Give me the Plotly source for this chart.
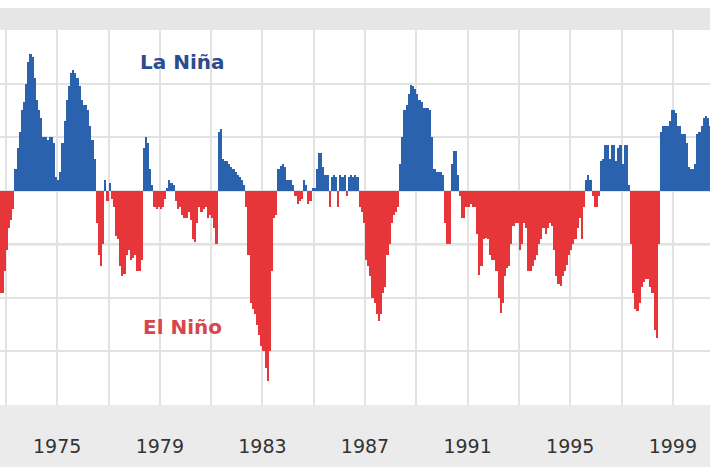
import numpy as np
import plotly.graph_objects as go

# monthly index values, starting Sep 1972 (positive = La Niña, negative = El Niño)
soi_1972_1979 = [
    -1.8, -1.9, -1.9, -1.5,
    -1.1, -0.7, -0.55, -0.35, 0.4, 0.8, 1.1, 1.5, 1.65, 2.0, 2.4, 2.55,
    2.5, 2.1, 1.7, 1.5, 1.35, 1.0, 1.0, 0.95, 1.0, 1.0, 0.9, 0.25,
    0.2, 0.35, 0.9, 1.3, 1.7, 1.95, 2.2, 2.25, 2.2, 2.1, 1.95, 1.7,
    1.6, 1.6, 1.5, 1.2, 0.95, 0.6, -0.6, -1.2, -1.4, -1.0, 0.2, -0.2,
    0.15, -0.15, -0.3, -0.85, -0.9, -1.4, -1.6, -1.55, -1.2, -1.1, -1.3, -1.25,
    -1.2, -1.5, -1.5, -1.3, 0.8, 1.0, 0.9, 0.4, 0.1, -0.3, -0.35, -0.3,
    -0.35, -0.3, -0.15, 0.05, 0.2, 0.15, 0.1, -0.2, -0.35, -0.3, -0.45, -0.5,
]
soi_1980_1989 = [
    -0.5, -0.4, -0.55, -0.9, -0.95, -0.6, -0.3, -0.4, -0.35, -0.3, -0.5, -0.45,
    -0.5, -0.7, -1.0, 1.1, 1.15, 0.6, 0.55, 0.55, 0.5, 0.45, 0.4, 0.35,
    0.3, 0.25, 0.2, 0.1, -0.3, -1.2, -2.1, -2.2, -2.3, -2.5, -2.7, -2.9,
    -3.0, -3.3, -3.55, -3.0, -1.5, -0.5, -0.45, 0.4, 0.47, 0.5, 0.45, 0.2,
    0.2, 0.2, 0.1, -0.1, -0.25, -0.2, -0.15, 0.2, 0.1, -0.25, -0.2, 0.05,
    0.05, 0.4, 0.7, 0.7, 0.45, 0.3, 0.3, -0.3, 0.25, 0.3, 0.25, -0.3,
    0.3, 0.25, 0.3, -0.1, 0.25, 0.3, 0.25, 0.3, 0.25, -0.3, -0.4, -0.6,
    -1.3, -1.4, -1.6, -2.0, -2.1, -2.3, -2.43, -2.3, -1.9, -1.8, -1.2, -1.0,
    -0.6, -0.45, -0.4, -0.3, 0.5, 1.0, 1.5, 1.6, 1.8, 1.98, 1.95, 1.9,
    1.8, 1.7, 1.65, 1.55, 1.55, 1.55, 1.5, 1.0, 0.4, 0.35, 0.35, 0.35,
]
soi_1990_2000 = [
    0.3, -0.6, -1.0, -1.0, 0.5, 0.75, 0.75, 0.3, -0.1, -0.5, -0.5, -0.3,
    -0.3, -0.25, -0.3, -0.3, -0.8, -1.57, -1.4, -0.9, -0.88, -0.9, -1.2, -1.3,
    -1.3, -1.5, -2.0, -2.28, -2.1, -1.6, -1.45, -1.4, -1.0, -0.65, -0.6, -0.6,
    -1.1, -1.0, -0.6, -0.7, -1.5, -1.5, -1.4, -1.3, -1.2, -1.0, -0.9, -0.7,
    -0.8, -0.7, -0.6, -0.65, -1.1, -1.6, -1.75, -1.78, -1.6, -1.5, -1.38, -1.2,
    -1.1, -1.0, -0.9, -0.7, -0.5, -0.9, -0.3, 0.2, 0.3, 0.2, -0.1, -0.3,
    -0.3, -0.1, 0.55, 0.6, 0.86, 0.86, 0.6, 0.85, 0.86, 0.55, 0.8, 0.85,
    0.5, 0.86, 0.85, 0.1, -1.0, -1.9, -2.2, -2.24, -2.1, -1.8, -1.7, -1.65,
    -1.65, -1.8, -1.9, -2.6, -2.74, -1.0, 1.1, 1.2, 1.2, 1.2, 1.3, 1.5,
    1.5, 1.45, 1.2, 1.2, 1.05, 1.05, 0.9, 0.45, 0.4, 0.4, 0.5, 1.05,
    1.1, 1.2, 1.35, 1.4, 1.35, 1.2,
]

soi = np.array(soi_1972_1979 + soi_1980_1989 + soi_1990_2000)
# month centres as decimal years, first month = Sep 1972
t = 1972 + 8 / 12 + (np.arange(len(soi)) + 0.5) / 12

label_years = [1975, 1979, 1983, 1987, 1991, 1995, 1999]
grid_years = list(range(1973, 2001, 2))
tick_text = [str(y) if y in label_years else "" for y in grid_years]

blue = "#2b62ae"
red = "#e6363a"

fig = go.Figure()
fig.add_trace(go.Bar(x=t, y=np.where(soi > 0, soi, 0), width=1 / 12,
                     marker=dict(color=blue, line=dict(width=0)), name="La Niña"))
fig.add_trace(go.Bar(x=t, y=np.where(soi < 0, soi, 0), width=1 / 12,
                     marker=dict(color=red, line=dict(width=0)), name="El Niño"))

# grey bands above and below the plot
fig.add_shape(type="rect", xref="paper", yref="paper", x0=0, x1=1, y0=1, y1=1.059,
              fillcolor="#e6e6e6", line_width=0, layer="below")
fig.add_shape(type="rect", xref="paper", yref="paper", x0=0, x1=1, y0=-0.165, y1=0,
              fillcolor="#ebebeb", line_width=0, layer="below")
# threshold line
fig.add_shape(type="line", xref="paper", x0=0, x1=1, y0=-1, y1=-1,
              line=dict(color="#e7a4a6", width=2), layer="below")

fig.add_annotation(x=1979.9, y=2.4, text="<b>La Niña</b>", showarrow=False,
                   font=dict(family="DejaVu Sans", size=20, color="#2c4c8c"))
fig.add_annotation(x=1979.9, y=-2.55, text="<b>El Niño</b>", showarrow=False,
                   font=dict(family="DejaVu Sans", size=20, color="#d8454d"))

fig.update_layout(
    width=710, height=473,
    margin=dict(l=0, r=0, t=30, b=68, autoexpand=False),
    paper_bgcolor="white", plot_bgcolor="white",
    barmode="relative", bargap=0,
    showlegend=False,
    font=dict(family="DejaVu Sans", color="#333333"),
)
fig.update_xaxes(
    range=[1972.77, 2000.45], tickmode="array", tickvals=grid_years, ticktext=tick_text,
    showgrid=True, gridcolor="#e2e2e2", gridwidth=2, zeroline=False, automargin=False,
    ticks="outside", ticklen=24, tickcolor="rgba(0,0,0,0)",
    tickfont=dict(size=19, color="#333333"),
)
fig.update_yaxes(
    range=[-4, 3], dtick=1, showgrid=True, gridcolor="#e2e2e2", gridwidth=2,
    zeroline=False, showticklabels=False, automargin=False,
)

# drop the browser's default body margin so the figure fills the window
fig.write_html("out.html", config={"displayModeBar": False},
               post_script="document.body.style.margin='0';")
